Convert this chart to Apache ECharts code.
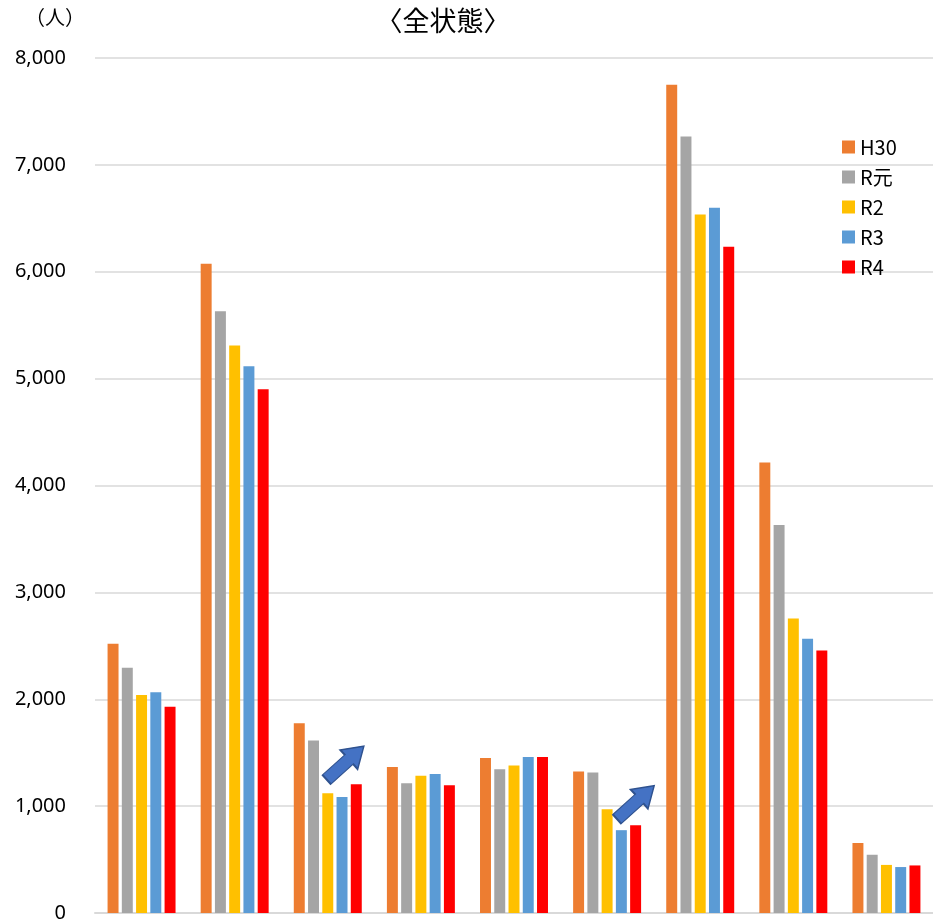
<!DOCTYPE html>
<html><head><meta charset="utf-8">
<script src="https://cdn.jsdelivr.net/npm/echarts@6/dist/echarts.min.js"></script>
<style>html,body{margin:0;padding:0;background:#fff}#c{width:933px;height:923px}</style>
</head><body><div id="c"></div>
<script>
const categories = ['1','2','3','4','5','6','7','8','9'];
const seriesNames = ['H30','R元','R2','R3','R4'];
const H30 = [2520, 6075, 1775, 1365, 1450, 1325, 7750, 4215, 655];
const Rgan = [2295, 5630, 1615, 1215, 1345, 1315, 7265, 3630, 545];
const R2 = [2040, 5310, 1120, 1285, 1380, 970, 6535, 2755, 450];
const R3 = [2065, 5115, 1085, 1300, 1460, 775, 6600, 2565, 430];
const R4 = [1930, 4900, 1205, 1195, 1460, 820, 6235, 2455, 445];
const yTicks = {min: 0, max: 8000, interval: 1000};
const arrows = [{cat: '3', value: 1405, offset: 46}, {cat: '6', value: 1035, offset: 57}];

const colors = ['#ED7D31', '#A5A5A5', '#FFC000', '#5B9BD5', '#FF0000'];
const values = [H30, Rgan, R2, R3, R4];
const arrowPath = 'path://M0,28 L60,28 L60,4 L100,50 L60,96 L60,72 L0,72 Z';

const series = seriesNames.map((n, i) => ({
  name: n, type: 'bar', data: values[i],
  barGap: '30%', barCategoryGap: '27%',
  itemStyle: {color: colors[i]},
  markPoint: i === 0 ? {
    silent: true, label: {show: false},
    data: arrows.map(a => ({
      coord: [a.cat, a.value], symbol: arrowPath, symbolSize: [50, 26],
      symbolRotate: 42, symbolOffset: [a.offset, 0],
      itemStyle: {color: '#4472C4', borderColor: '#2F528F', borderWidth: 1.5}
    }))
  } : undefined
}));

const chart = echarts.init(document.getElementById('c'));
chart.setOption({
  animation: false,
  textStyle: {fontFamily: '"Noto Sans CJK JP", "Noto Sans", sans-serif'},
  title: [{text: '〈全状態〉', left: 438, top: 2, textAlign: 'center',
    textStyle: {fontSize: 27, fontWeight: 'normal', color: '#000', fontFamily: '"Noto Sans CJK JP"'}},
    {text: '（人）', left: 20, top: 2,
    textStyle: {fontSize: 20, fontWeight: 'normal', color: '#000', fontFamily: '"Noto Sans CJK JP"'}}],
  legend: {orient: 'vertical', left: 837, top: 132, itemWidth: 13, itemHeight: 13, itemGap: 10,
    icon: 'rect', textStyle: {fontSize: 20, color: '#000', fontFamily: '"Noto Sans CJK JP"'}, data: seriesNames},
  grid: {left: 95, right: 0, top: 58, bottom: 8, containLabel: false},
  xAxis: {type: 'category', data: categories,
    axisLine: {lineStyle: {color: '#D9D9D9', width: 2}}, axisTick: {show: false}, axisLabel: {show: false}},
  yAxis: {type: 'value', min: yTicks.min, max: yTicks.max, interval: yTicks.interval,
    axisLine: {show: false}, axisTick: {show: false},
    axisLabel: {fontSize: 20, color: '#000', margin: 29, fontFamily: '"Noto Sans", sans-serif',
      formatter: v => v.toLocaleString('en-US')},
    splitLine: {lineStyle: {color: '#D9D9D9', width: 1.5}}},
  series: series
});
</script></body></html>
